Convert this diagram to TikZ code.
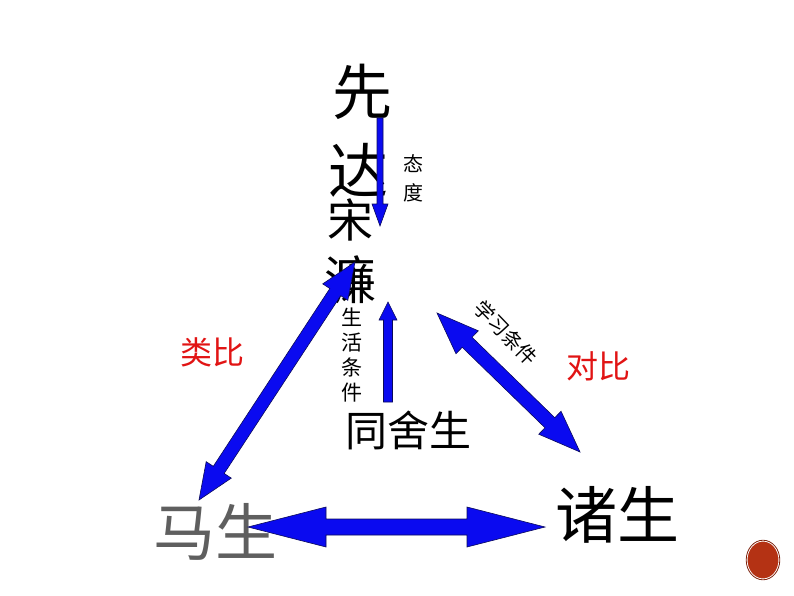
\documentclass[tikz,border=0pt]{standalone}
\usepackage{fontspec}
\setmainfont{Noto Sans CJK SC}
\usetikzlibrary{calc,shapes.geometric}
\definecolor{arrblue}{RGB}{10,10,240}
\definecolor{arredge}{RGB}{10,10,90}
\definecolor{lblred}{RGB}{225,20,20}
\definecolor{mgray}{RGB}{95,95,95}
\definecolor{dotred}{RGB}{180,50,20}
\newcommand\fs[1]{\fontsize{#1}{#1}\selectfont}
% double block arrow between named coordinates #1 and #2
% #3 shaft half width, #4 head half width, #5 head length (pt)
\newcommand\dblarrow[5]{%
  \coordinate (#1h) at ($(#1)!#5pt!(#2)$);
  \coordinate (#2h) at ($(#2)!#5pt!(#1)$);
  \filldraw[blockarrow] (#1) -- ($(#1h)!#4pt!90:(#2)$) -- ($(#1h)!#3pt!90:(#2)$)
    -- ($(#2h)!#3pt!-90:(#1)$) -- ($(#2h)!#4pt!-90:(#1)$) -- (#2)
    -- ($(#2h)!#4pt!90:(#1)$) -- ($(#2h)!#3pt!90:(#1)$)
    -- ($(#1h)!#3pt!-90:(#2)$) -- ($(#1h)!#4pt!-90:(#2)$) -- cycle;}
% single block arrow from #1 (tail) to #2 (tip)
\newcommand\sglarrow[5]{%
  \coordinate (#2h) at ($(#2)!#5pt!(#1)$);
  \filldraw[blockarrow] (#2) -- ($(#2h)!#4pt!90:(#1)$) -- ($(#2h)!#3pt!90:(#1)$)
    -- ($(#1)!#3pt!-90:(#2)$) -- ($(#1)!#3pt!90:(#2)$)
    -- ($(#2h)!#3pt!-90:(#1)$) -- ($(#2h)!#4pt!-90:(#1)$) -- cycle;}
\begin{document}
\begin{tikzpicture}[x=1pt,y=-1pt,
  blockarrow/.style={fill=arrblue,draw=arredge,line width=0.6pt,line join=miter},
  word/.style={inner sep=0pt,text=black},
  redlbl/.style={inner sep=0pt,text=lblred,font=\fs{32}},
  vert/.style={inner sep=0pt,align=center}]
\useasboundingbox (0,0) rectangle (794,596);
% main text nodes
\node[word,font=\fs{60}] (xian) at (362,92) {先};
\node[word,font=\fs{60}] (da) at (358,170) {达};
\node[word,font=\fs{46}] (song) at (350,220) {宋};
\node[word,font=\fs{52}] (lian) at (350,280) {濂};
\node[vert,font=\fontsize{21}{25}\selectfont] (shcj) at (352,355) {生\\活\\条\\件};
\node[vert,font=\fontsize{20}{29}\selectfont] (taidu) at (413,178) {态\\度};
\node[word,font=\fs{42}] (tss) at (408,430) {同舍生};
\node[word,font=\fs{62},text=mgray] (ms) at (215,532) {马生};
\node[word,font=\fs{62}] (zs) at (617,515) {诸生};
\node[redlbl] (lb) at (212,352) {类比};
\node[redlbl] (db) at (598,366) {对比};
\node[inner sep=0pt,font=\fs{20},rotate=-46] (xxtj) at (506,333) {学习条件};
% arrow end points
\coordinate (dA) at (380,118);
\coordinate (dB) at (380,226);
\coordinate (uA) at (388,402);
\coordinate (uB) at (388,302);
\coordinate (lA) at (355,262);
\coordinate (lB) at (199,500);
\coordinate (rA) at (437,313);
\coordinate (rB) at (580,452);
\coordinate (hA) at (248,527);
\coordinate (hB) at (545,527);
\sglarrow{dA}{dB}{3}{8}{22}
\sglarrow{uA}{uB}{4.5}{9}{18}
\dblarrow{lA}{lB}{6.5}{15}{36}
\dblarrow{rA}{rB}{7}{16}{42}
\dblarrow{hA}{hB}{8}{20}{78}
% decorative dot
\node[ellipse,minimum width=32pt,minimum height=38pt,fill=dotred,draw=white,line width=1pt,inner sep=0pt] (dot) at (763,560) {};
\draw[dotred!70!black,line width=0.8pt] (dot.center) ellipse [x radius=16.8,y radius=19.8];
\end{tikzpicture}
\end{document}
